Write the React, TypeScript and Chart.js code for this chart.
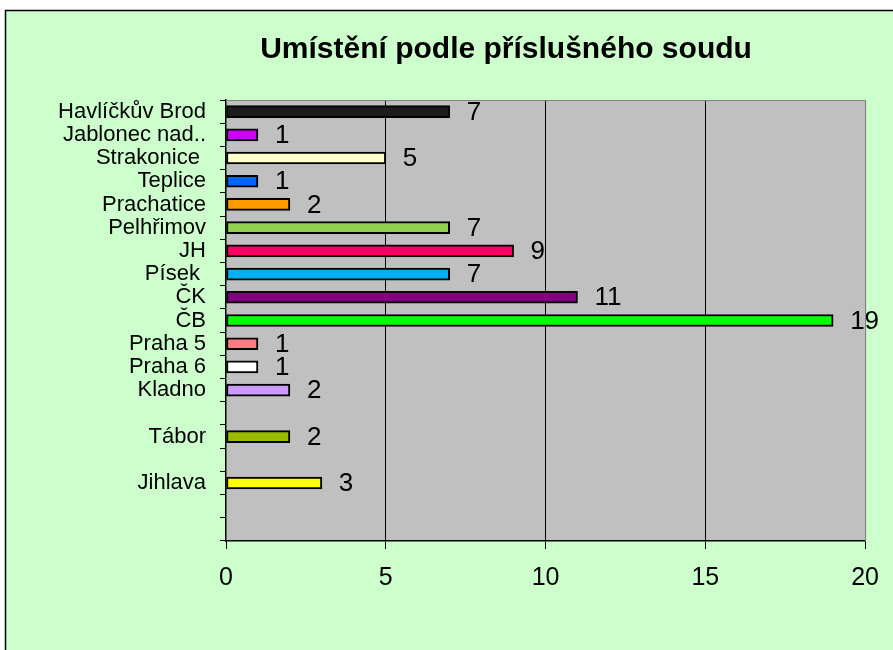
import React, { useEffect, useRef } from "react";
import { Chart, registerables } from "chart.js";

Chart.register(...registerables);

const TITLE = "Umístění podle příslušného soudu";

const categories: string[] = [
  "Havlíčkův Brod",
  "Jablonec nad..",
  "Strakonice ",
  "Teplice",
  "Prachatice",
  "Pelhřimov",
  "JH",
  "Písek ",
  "ČK",
  "ČB",
  "Praha 5",
  "Praha 6",
  "Kladno",
  "",
  "Tábor",
  "",
  "Jihlava",
  "",
  "",
];

const counts: (number | null)[] = [7, 1, 5, 1, 2, 7, 9, 7, 11, 19, 1, 1, 2, null, 2, null, 3, null, null];

const barColors: string[] = [
  "#1c1c1c",
  "#cc00ff",
  "#ffffcc",
  "#0066ff",
  "#ff9900",
  "#92d050",
  "#ff0066",
  "#00b0f0",
  "#800080",
  "#00ff00",
  "#ff7c80",
  "#ffffff",
  "#cc99ff",
  "#ffffff",
  "#99bb00",
  "#ffffff",
  "#ffff00",
  "#ffffff",
  "#ffffff",
];

const xTickValues: number[] = [0, 5, 10, 15, 20];

const FONT = "'Liberation Sans', Arial, sans-serif";

const framePlugin = {
  id: "frame",
  beforeDraw(chart: any) {
    const { ctx, chartArea, width, height } = chart;
    ctx.save();
    ctx.fillStyle = "#ffffff";
    ctx.fillRect(0, 0, width, height);
    ctx.fillStyle = "#ccffcc";
    ctx.fillRect(6, 11, width - 6, height - 11);
    ctx.strokeStyle = "#000000";
    ctx.lineWidth = 1.5;
    ctx.beginPath();
    ctx.moveTo(5.5, height);
    ctx.lineTo(5.5, 10.5);
    ctx.lineTo(width, 10.5);
    ctx.stroke();
    ctx.fillStyle = "#c0c0c0";
    ctx.fillRect(chartArea.left, chartArea.top, chartArea.right - chartArea.left, chartArea.bottom - chartArea.top);
    ctx.restore();
  },
  afterDraw(chart: any) {
    const { ctx, chartArea } = chart;
    ctx.save();
    ctx.strokeStyle = "#808080";
    ctx.lineWidth = 1;
    ctx.beginPath();
    ctx.moveTo(chartArea.left, chartArea.top + 0.5);
    ctx.lineTo(chartArea.right + 0.5, chartArea.top + 0.5);
    ctx.lineTo(chartArea.right + 0.5, chartArea.bottom);
    ctx.stroke();
    ctx.fillStyle = "#000000";
    ctx.font = `bold 30px ${FONT}`;
    ctx.textAlign = "center";
    ctx.textBaseline = "middle";
    ctx.fillText(TITLE, 506, 50);
    ctx.restore();
  },
};

const valueLabelPlugin = {
  id: "valueLabels",
  afterDatasetsDraw(chart: any) {
    const { ctx } = chart;
    const meta = chart.getDatasetMeta(0);
    const data = chart.data.datasets[0].data as (number | null)[];
    ctx.save();
    ctx.fillStyle = "#000000";
    ctx.font = `26px ${FONT}`;
    ctx.textAlign = "left";
    ctx.textBaseline = "middle";
    meta.data.forEach((el: any, i: number) => {
      const v = data[i];
      if (v === null || v === undefined) return;
      ctx.fillText(String(v), el.x + 17, el.y + 1);
    });
    ctx.restore();
  },
};

export default function App() {
  const canvasRef = useRef<HTMLCanvasElement | null>(null);

  useEffect(() => {
    if (!canvasRef.current) return;
    const chart = new Chart(canvasRef.current, {
      type: "bar",
      data: {
        labels: categories,
        datasets: [
          {
            data: counts,
            backgroundColor: barColors,
            borderColor: "#000000",
            borderWidth: 2,
            borderSkipped: false,
            barThickness: 12,
          },
        ],
      },
      options: {
        indexAxis: "y",
        responsive: false,
        animation: false,
        layout: { padding: { top: 100, right: 27, bottom: 0, left: 0 } },
        plugins: {
          legend: { display: false },
          title: { display: false },
          tooltip: { enabled: false },
        },
        scales: {
          x: {
            type: "linear",
            min: 0,
            max: 20,
            afterBuildTicks(scale: any) {
              scale.ticks = xTickValues.map((v) => ({ value: v }));
            },
            afterFit(scale: any) {
              scale.height = 109;
            },
            border: { display: true, color: "#000000", width: 1.5 },
            grid: {
              drawOnChartArea: true,
              drawTicks: true,
              tickLength: 8,
              tickColor: "#000000",
              color: (c: any) => {
                const v = c.tick ? c.tick.value : 0;
                if (v === 0) return "rgba(0,0,0,0)";
                if (v === 20) return "#808080";
                return "#000000";
              },
              lineWidth: 1,
            },
            ticks: {
              color: "#000000",
              font: { family: FONT, size: 25 },
              padding: 14,
              maxRotation: 0,
            },
          },
          y: {
            type: "category",
            afterFit(scale: any) {
              scale.width = 226;
            },
            border: { display: true, color: "#000000", width: 1.5 },
            grid: {
              display: true,
              offset: true,
              drawOnChartArea: false,
              drawTicks: true,
              tickLength: 6,
              tickColor: "#000000",
            },
            ticks: {
              autoSkip: false,
              color: "#000000",
              font: { family: FONT, size: 22 },
              padding: 14,
            },
          },
        },
      },
      plugins: [framePlugin, valueLabelPlugin],
    } as any);
    return () => chart.destroy();
  }, []);

  return (
    <div style={{ position: "fixed", left: 0, top: 0, width: 893, height: 650, overflow: "hidden" }}>
      <canvas ref={canvasRef} width={893} height={650} style={{ display: "block", width: 893, height: 650 }} />
    </div>
  );
}
